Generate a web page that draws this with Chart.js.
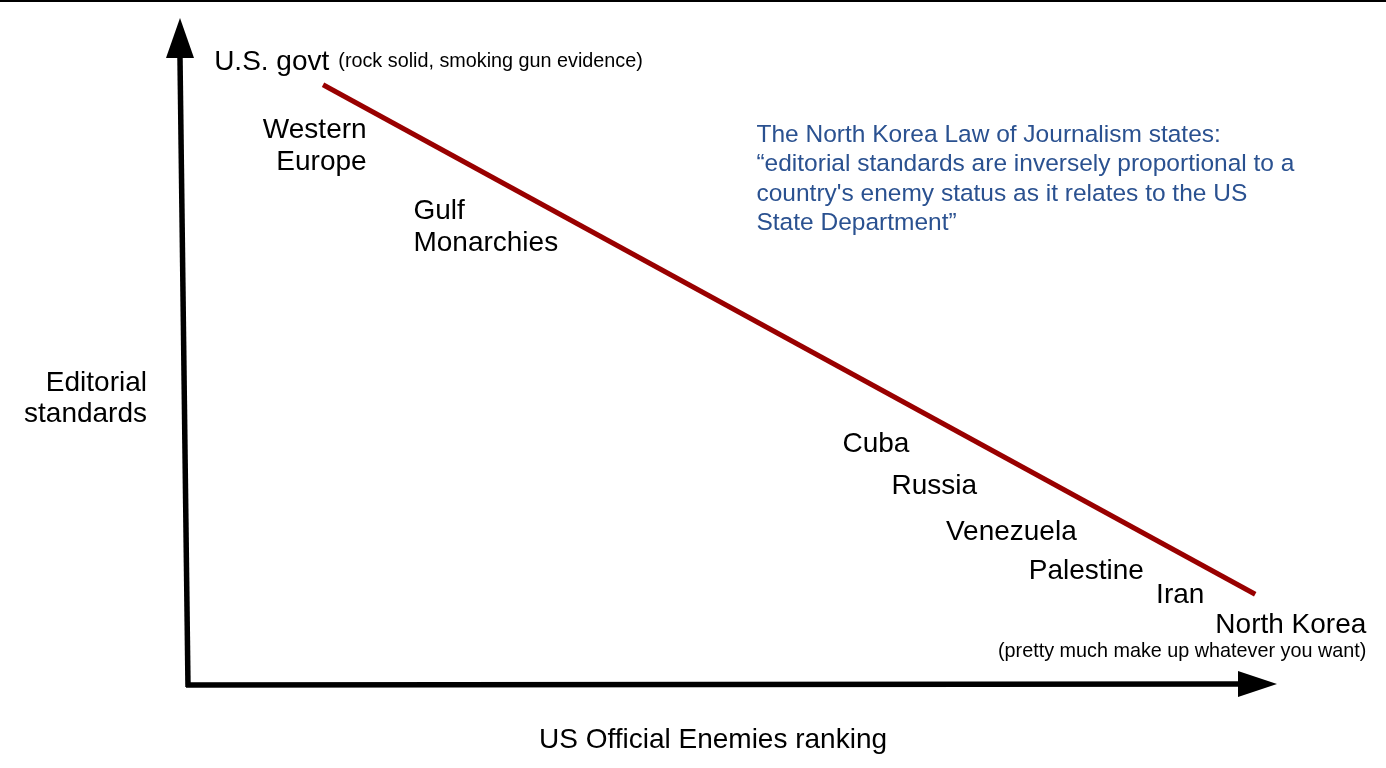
<!DOCTYPE html>
<html lang="en">
<head>
    <meta charset="UTF-8">
    <title>North Korea Law of Journalism</title>
    <script src="https://cdn.jsdelivr.net/npm/chart.js@4.4.1/dist/chart.umd.min.js"></script>
    <style>
        html, body { margin: 0; padding: 0; background: #fff; }
        .chart-box { width: 1386px; height: 768px; }
    </style>
</head>
<body>
    <div class="chart-box">
        <canvas id="lawChart"></canvas>
    </div>

    <script>
        // countries placed by enemy ranking (x) and editorial standards (y), 0-100 scale
        const countries = ['U.S. govt', 'Western\nEurope', 'Gulf\nMonarchies', 'Cuba', 'Russia', 'Venezuela', 'Palestine', 'Iran', 'North Korea'];
        const enemyRank = [2.4, 16.4, 20.7, 60.1, 64.6, 69.6, 77.2, 88.9, 108.2];
        const standards = [92.2, 82.0, 69.9, 34.9, 28.6, 21.7, 15.9, 12.3, 7.8];

        // the trend line
        const trendRank = [12.4, 98.0];
        const trendStandards = [90.0, 13.6];

        const usNote = '(rock solid, smoking gun evidence)';
        const nkNote = '(pretty much make up whatever you want)';
        const lawLines = [
            'The North Korea Law of Journalism states:',
            '\u201ceditorial standards are inversely proportional to a',
            'country\'s enemy status as it relates to the US',
            'State Department\u201d'
        ];
        const lawAnchor = [52.2, 81.4];
        const yTitle = ['Editorial', 'standards'];
        const xTitle = 'US Official Enemies ranking';

        const rightAligned = ['Western\nEurope', 'North Korea'];
        const FONT = '"Liberation Sans", Arial, sans-serif';

        const drawingPlugin = {
            id: 'drawing',
            afterDatasetsDraw(chart) {
                const c = chart.ctx;
                const area = chart.chartArea;
                const xs = chart.scales.x;
                const ys = chart.scales.y;
                c.save();

                // top border
                c.fillStyle = '#000';
                c.fillRect(0, 0, chart.width, 2);

                // axes with arrow heads
                c.strokeStyle = '#000';
                c.lineWidth = 5.5;
                c.lineCap = 'butt';
                c.beginPath();
                c.moveTo(area.left, area.bottom + 2);
                c.lineTo(area.left - 8, area.top + 40);
                c.stroke();
                c.beginPath();
                c.moveTo(area.left - 2, area.bottom);
                c.lineTo(area.right - 36, area.bottom - 1);
                c.stroke();

                c.beginPath();
                c.moveTo(area.left - 8, area.top);
                c.lineTo(area.left - 22, area.top + 40);
                c.lineTo(area.left + 6, area.top + 40);
                c.closePath();
                c.fill();
                c.beginPath();
                c.moveTo(area.right, area.bottom - 1);
                c.lineTo(area.right - 39, area.bottom - 14);
                c.lineTo(area.right - 39, area.bottom + 12);
                c.closePath();
                c.fill();

                // country labels
                const meta = chart.getDatasetMeta(1);
                c.fillStyle = '#000';
                c.textBaseline = 'alphabetic';
                meta.data.forEach((pt, i) => {
                    const name = countries[i];
                    const right = rightAligned.includes(name);
                    c.font = '28px ' + FONT;
                    c.textAlign = right ? 'right' : 'left';
                    name.split('\n').forEach((line, j) => {
                        c.fillText(line, pt.x, pt.y + j * 32);
                    });
                    if (name === 'U.S. govt') {
                        const w = c.measureText(name).width;
                        c.font = '19.8px ' + FONT;
                        c.textAlign = 'left';
                        c.fillText(usNote, pt.x + w + 9, pt.y - 3);
                    }
                    if (name === 'North Korea') {
                        c.font = '19.8px ' + FONT;
                        c.textAlign = 'right';
                        c.fillText(nkNote, pt.x, pt.y + 24);
                    }
                });

                // the law quote
                c.fillStyle = '#2a5190';
                c.font = '24.5px ' + FONT;
                c.textAlign = 'left';
                const lx = xs.getPixelForValue(lawAnchor[0]);
                const ly = ys.getPixelForValue(lawAnchor[1]);
                lawLines.forEach((line, j) => c.fillText(line, lx, ly + j * 29.3));

                // axis titles
                c.fillStyle = '#000';
                c.font = '28px ' + FONT;
                c.textAlign = 'right';
                yTitle.forEach((line, j) => c.fillText(line, area.left - 41, 391 + j * 31));
                c.textAlign = 'center';
                c.fillText(xTitle, 713, area.bottom + 63);

                c.restore();
            }
        };

        new Chart(document.getElementById('lawChart'), {
            type: 'scatter',
            data: {
                datasets: [{
                    label: 'trend',
                    data: trendRank.map((x, i) => ({ x: x, y: trendStandards[i] })),
                    showLine: true,
                    borderColor: '#990000',
                    borderWidth: 5,
                    pointRadius: 0,
                    borderCapStyle: 'butt'
                }, {
                    label: 'countries',
                    data: enemyRank.map((x, i) => ({ x: x, y: standards[i] })),
                    pointRadius: 0,
                    clip: false
                }]
            },
            options: {
                responsive: true,
                maintainAspectRatio: false,
                animation: false,
                layout: { padding: { left: 188, right: 109, top: 18, bottom: 83 } },
                plugins: { legend: { display: false }, tooltip: { enabled: false } },
                scales: {
                    x: { type: 'linear', min: 0, max: 100, display: false },
                    y: { type: 'linear', min: 0, max: 100, display: false }
                }
            },
            plugins: [drawingPlugin]
        });
    </script>
</body>
</html>
